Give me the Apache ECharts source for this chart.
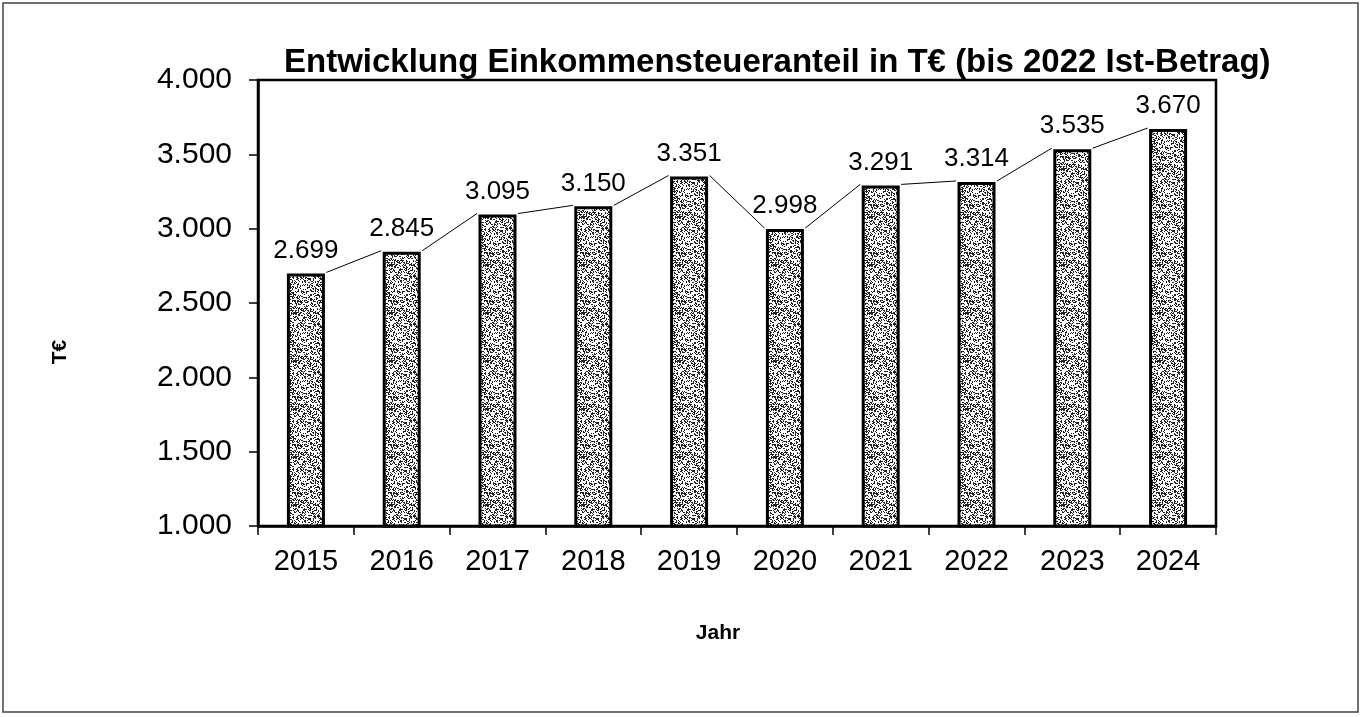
<!DOCTYPE html>
<html>
<head>
<meta charset="utf-8">
<script src="https://cdn.jsdelivr.net/npm/echarts@6/dist/echarts.min.js"></script>
<style>
  html, body { margin: 0; padding: 0; background: #fff; }
  #chart { width: 1362px; height: 717px; }
</style>
</head>
<body>
<div id="chart"></div>
<script>
const years = ['2015', '2016', '2017', '2018', '2019', '2020', '2021', '2022', '2023', '2024'];
const amounts = [2699, 2845, 3095, 3150, 3351, 2998, 3291, 3314, 3535, 3670];
const yTicks = { min: 1000, max: 4000, step: 500 };

const FONT = '"Liberation Sans", Arial, sans-serif';

// stippled grey fill like the scanned print (fixed hash, not data)
function makeStipple() {
    const c = document.createElement('canvas');
    c.width = 48;
    c.height = 48;
    const ctx = c.getContext('2d');
    ctx.fillStyle = '#ffffff';
    ctx.fillRect(0, 0, 48, 48);
    ctx.fillStyle = '#222';
    for (let y = 0; y < 48; y++) {
        for (let x = 0; x < 48; x++) {
            const h = Math.sin(x * 12.9898 + y * 78.233) * 43758.5453;
            if (h - Math.floor(h) < 0.4) ctx.fillRect(x, y, 1, 1);
        }
    }
    return c;
}

const fmt = v => String(v).replace(/\B(?=(\d{3})+(?!\d))/g, '.');

const BAR_W = 38;
const lineData = amounts.slice(0, -1).map((v, i) => [i, v, amounts[i + 1]]);

const chart = echarts.init(document.getElementById('chart'));
chart.setOption({
    animation: false,
    backgroundColor: '#fff',
    title: {
        text: 'Entwicklung Einkommensteueranteil in T€ (bis 2022 Ist-Betrag)',
        left: 279,
        top: 41,
        textStyle: { fontFamily: FONT, fontSize: 33, fontWeight: 'bold', color: '#000' }
    },
    graphic: [
        {
            type: 'rect',
            shape: { x: 3, y: 3, width: 1355, height: 709 },
            style: { fill: 'none', stroke: '#444', lineWidth: 1.5 },
            silent: true
        },
        {
            type: 'text',
            x: 60,
            y: 352,
            rotation: Math.PI / 2,
            style: {
                text: 'T€', fontFamily: FONT, fontSize: 21, fontWeight: 'bold', fill: '#000',
                align: 'center', verticalAlign: 'middle'
            }
        },
        {
            type: 'text',
            x: 718,
            y: 633,
            style: {
                text: 'Jahr', fontFamily: FONT, fontSize: 21, fontWeight: 'bold', fill: '#000',
                align: 'center', verticalAlign: 'middle'
            }
        }
    ],
    grid: { left: 258, right: 146, top: 80, bottom: 191, show: true, borderColor: '#000', borderWidth: 2.5 },
    xAxis: {
        type: 'category',
        data: years,
        axisLine: { lineStyle: { color: '#000', width: 2.5 } },
        axisTick: { show: true, length: 9, lineStyle: { color: '#000', width: 1.5 } },
        axisLabel: { fontFamily: FONT, fontSize: 29, color: '#000', margin: 21 }
    },
    yAxis: {
        type: 'value',
        min: yTicks.min,
        max: yTicks.max,
        interval: yTicks.step,
        axisLine: { show: true, lineStyle: { color: '#000', width: 2.5 } },
        axisTick: { show: true, length: 9, lineStyle: { color: '#000', width: 1.5 } },
        splitLine: { show: false },
        axisLabel: { fontFamily: FONT, fontSize: 30, color: '#000', margin: 26, formatter: fmt }
    },
    series: [
        {
            type: 'bar',
            data: amounts,
            barWidth: BAR_W,
            itemStyle: {
                color: { image: makeStipple(), repeat: 'repeat' },
                borderColor: '#000',
                borderWidth: 3
            },
            label: {
                show: true,
                position: 'top',
                distance: 10,
                fontFamily: FONT,
                fontSize: 26,
                color: '#000',
                formatter: p => fmt(p.value)
            },
            z: 2
        },
        {
            type: 'custom',
            data: lineData,
            z: 3,
            renderItem: (params, api) => {
                const a = api.coord([api.value(0), api.value(1)]);
                const b = api.coord([api.value(0) + 1, api.value(2)]);
                const half = BAR_W / 2 + 1.5;
                return {
                    type: 'line',
                    shape: { x1: a[0] + half, y1: a[1] - 1, x2: b[0] - half, y2: b[1] - 1 },
                    style: { stroke: '#000', lineWidth: 1 }
                };
            }
        }
    ]
});
</script>
</body>
</html>
